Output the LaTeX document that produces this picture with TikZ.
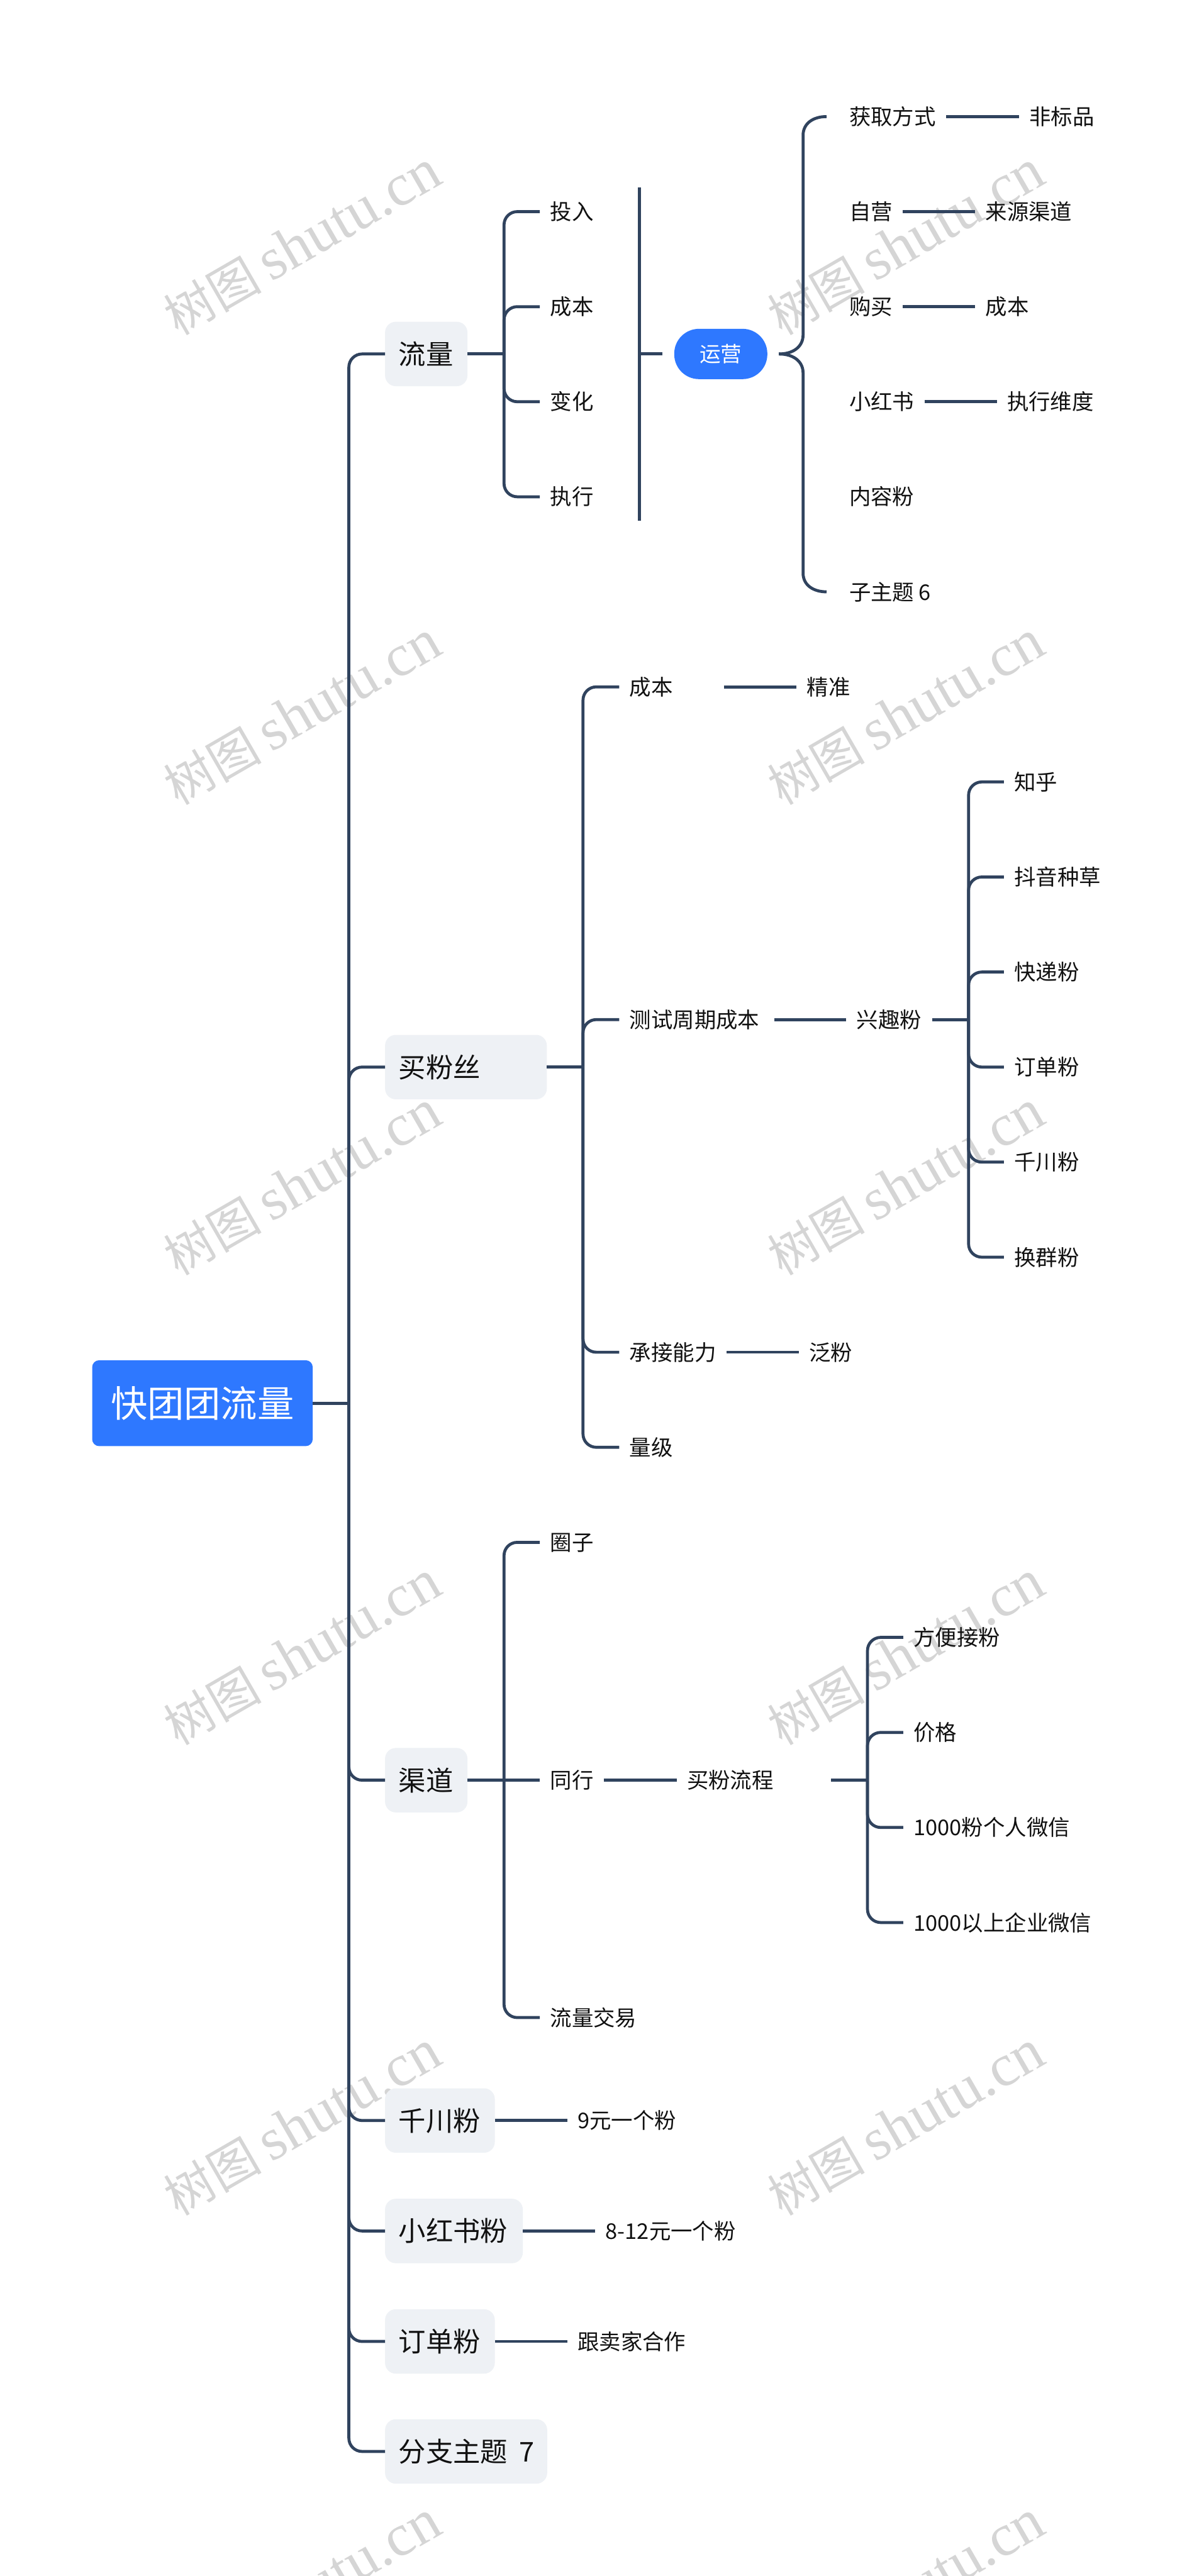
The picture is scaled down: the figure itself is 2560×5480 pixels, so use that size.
\documentclass[tikz,border=0pt]{standalone}
\usepackage{fontspec}
\setmainfont{Noto Sans CJK SC}
\newfontfamily\wmlat{Liberation Serif}
\newfontfamily\wmcjk{Noto Sans CJK SC}
\definecolor{linec}{HTML}{30435E}
\definecolor{boxc}{HTML}{EEF1F5}
\definecolor{bluec}{HTML}{2E78FF}
\definecolor{textc}{HTML}{111111}
\definecolor{wmc}{HTML}{D5D5D5}
\newcommand{\wbox}[2]{\makebox[#1][l]{#2}}
\tikzset{
  conn/.style={draw=linec,line width=3.6pt,rounded corners=16pt,line cap=butt},
  leaf/.style={anchor=west,inner xsep=12.6pt,inner ysep=0pt,outer sep=0pt,text=textc,
    font=\fontsize{26.2pt}{30pt}\selectfont,text height=23pt,text depth=3.1pt},
  branch/.style={anchor=west,fill=boxc,rounded corners=13pt,inner xsep=16.6pt,inner ysep=0pt,outer sep=0pt,
    minimum height=78pt,text=textc,font=\fontsize{33pt}{38pt}\selectfont,text height=29pt,text depth=4pt},
  rootbox/.style={anchor=west,fill=bluec,rounded corners=8.5pt,inner xsep=22.3pt,inner ysep=0pt,outer sep=0pt,
    minimum height=104pt,minimum width=267pt,text=white,font=\fontsize{44.4pt}{50pt}\selectfont,text height=39pt,text depth=5.3pt},
  pill/.style={fill=bluec,rounded corners=30pt,inner sep=0pt,outer sep=14pt,minimum width=112.7pt,minimum height=60.9pt,
    text=white,font=\fontsize{25.6pt}{30pt}\selectfont,text height=22.5pt,text depth=3pt},
  wm/.style={rotate=30,text=wmc,inner sep=0pt}
}
\begin{document}
\begin{tikzpicture}[x=0.02cm,y=-0.02cm]
\useasboundingbox (0,0) rectangle (2560,5480);
\fill[white] (0,0) rectangle (2560,5480);
% watermarks
\begin{scope}
\clip (0,0) rectangle (2560,5480);
\foreach \wy in {517,1517,2517,3517,4517,5517}{
  \foreach \wx in {643,1927}{
    \node[wm] (wm\wx-\wy) at (\wx,\wy) {{\fontsize{59pt}{66pt}\selectfont\wmcjk 树图}\hspace{12pt}{\fontsize{72pt}{78pt}\selectfont\wmlat shutu.cn}};
  }
}
\end{scope}
% root and main branches
\node[rootbox] (root) at (196,2985) {快团团流量};
\node[branch] (liu) at (819,753) {\wbox{66.5pt}{流量}};
\node[branch] (mai) at (819,2270) {\wbox{162.6pt}{买粉丝}};
\node[branch] (qu) at (819,3787) {\wbox{66.5pt}{渠道}};
\node[branch] (qian) at (819,4511) {\wbox{99.6pt}{千川粉}};
\node[branch] (xhs) at (819,4746) {\wbox{133.5pt}{小红书粉}};
\node[branch] (ding) at (819,4981) {\wbox{99.6pt}{订单粉}};
\node[branch] (fen7) at (819,5215) {\wbox{163pt}{分支主题 \hspace{.2em}7}};
\coordinate (s0) at (742,2985);
\draw[conn] (root.east) -- (s0);
\foreach \c in {liu,mai,qu,qian,xhs,ding,fen7}{\draw[conn] (s0) |- (\c.west);}
% liuliang
\coordinate (s1) at (1072,753);
\draw[conn] (liu.east) -- (s1);
\node[leaf] (a1) at (1148,450.2) {投入};
\node[leaf] (a2) at (1148,652.4) {成本};
\node[leaf] (a3) at (1148,854.6) {变化};
\node[leaf] (a4) at (1148,1056.8) {执行};
\foreach \c in {a1,a2,a3,a4}{\draw[conn] (s1) |- (\c.west);}
\coordinate (barT) at (1360,399);
\coordinate (barM) at (1360,753);
\coordinate (barB) at (1360,1108);
\draw[conn] (barT) -- (barB);
\node[pill] (yun) at (1533,753) {运营};
\draw[conn] (barM) -- (yun.west);
\coordinate (braceT) at (1758,248);
\coordinate (braceB) at (1758,1259);
\draw[conn,rounded corners=0pt] (yun.east) .. controls (1690,753) and (1708,735) .. (1708,713) -- (1708,288) .. controls (1708,262) and (1730,248) .. (braceT);
\draw[conn,rounded corners=0pt] (yun.east) .. controls (1690,753) and (1708,771) .. (1708,793) -- (1708,1219) .. controls (1708,1245) and (1730,1259) .. (braceB);
\node[leaf] (b1) at (1784,248) {获取方式};
\node[leaf] (b2) at (1784,450.2) {自营};
\node[leaf] (b3) at (1784,652.4) {购买};
\node[leaf] (b4) at (1784,854.6) {小红书};
\node[leaf] (b5) at (1784,1056.8) {内容粉};
\node[leaf] (b6) at (1784,1259) {子主题 6};
\node[leaf] (c1) at (2167,248) {非标品};
\node[leaf] (c2) at (2074,450.2) {来源渠道};
\node[leaf] (c3) at (2074,652.4) {成本};
\node[leaf] (c4) at (2120,854.6) {执行维度};
\draw[conn] (b1.east) -- (c1.west);
\draw[conn] (b2.east) -- (c2.west);
\draw[conn] (b3.east) -- (c3.west);
\draw[conn] (b4.east) -- (c4.west);
% maifensi
\coordinate (s2) at (1240,2270);
\draw[conn] (mai.east) -- (s2);
\node[leaf] (d1) at (1317,1461.2) {\wbox{101.6pt}{成本}};
\node[leaf] (d2) at (1317,2169) {\wbox{162.5pt}{测试周期成本}};
\node[leaf] (d3) at (1317,2876.6) {承接能力};
\node[leaf] (d4) at (1317,3078.8) {量级};
\foreach \c in {d1,d2,d3,d4}{\draw[conn] (s2) |- (\c.west);}
\node[leaf] (e1) at (1694,1461.2) {精准};
\node[leaf] (e2) at (1800,2169) {兴趣粉};
\node[leaf] (e3) at (1699,2876.6) {泛粉};
\draw[conn] (d1.east) -- (e1.west);
\draw[conn] (d2.east) -- (e2.west);
\draw[conn] (d3.east) -- (e3.west);
\coordinate (s3) at (2060,2169);
\draw[conn] (e2.east) -- (s3);
\node[leaf] (f1) at (2135,1663.4) {知乎};
\node[leaf] (f2) at (2135,1865.6) {抖音种草};
\node[leaf] (f3) at (2135,2067.8) {快递粉};
\node[leaf] (f4) at (2135,2270) {订单粉};
\node[leaf] (f5) at (2135,2472.2) {千川粉};
\node[leaf] (f6) at (2135,2674.4) {换群粉};
\foreach \c in {f1,f2,f3,f4,f5,f6}{\draw[conn] (s3) |- (\c.west);}
% qudao
\coordinate (s4) at (1072,3787);
\node[leaf] (g1) at (1148,3281) {圈子};
\node[leaf] (g2) at (1148,3787) {同行};
\node[leaf] (g3) at (1148,4292) {流量交易};
\draw[conn] (qu.east) -- (g2.west);
\draw[conn] (s4) |- (g1.west);
\draw[conn] (s4) |- (g3.west);
\node[leaf] (h1) at (1439,3787) {\wbox{162pt}{买粉流程}};
\draw[conn] (g2.east) -- (h1.west);
\coordinate (s5) at (1845,3787);
\draw[conn] (h1.east) -- (s5);
\node[leaf] (i1) at (1921,3483.2) {方便接粉};
\node[leaf] (i2) at (1921,3685.4) {价格};
\node[leaf] (i3) at (1921,3887.6) {1000粉个人微信};
\node[leaf] (i4) at (1921,4089.8) {1000以上企业微信};
\foreach \c in {i1,i2,i3,i4}{\draw[conn] (s5) |- (\c.west);}
% other branches
\node[leaf] (j1) at (1206.5,4511) {9元一个粉};
\node[leaf] (j2) at (1266,4746) {8-12元一个粉};
\node[leaf] (j3) at (1206.5,4981) {跟卖家合作};
\draw[conn] (qian.east) -- (j1.west);
\draw[conn] (xhs.east) -- (j2.west);
\draw[conn] (ding.east) -- (j3.west);
\end{tikzpicture}
\end{document}
